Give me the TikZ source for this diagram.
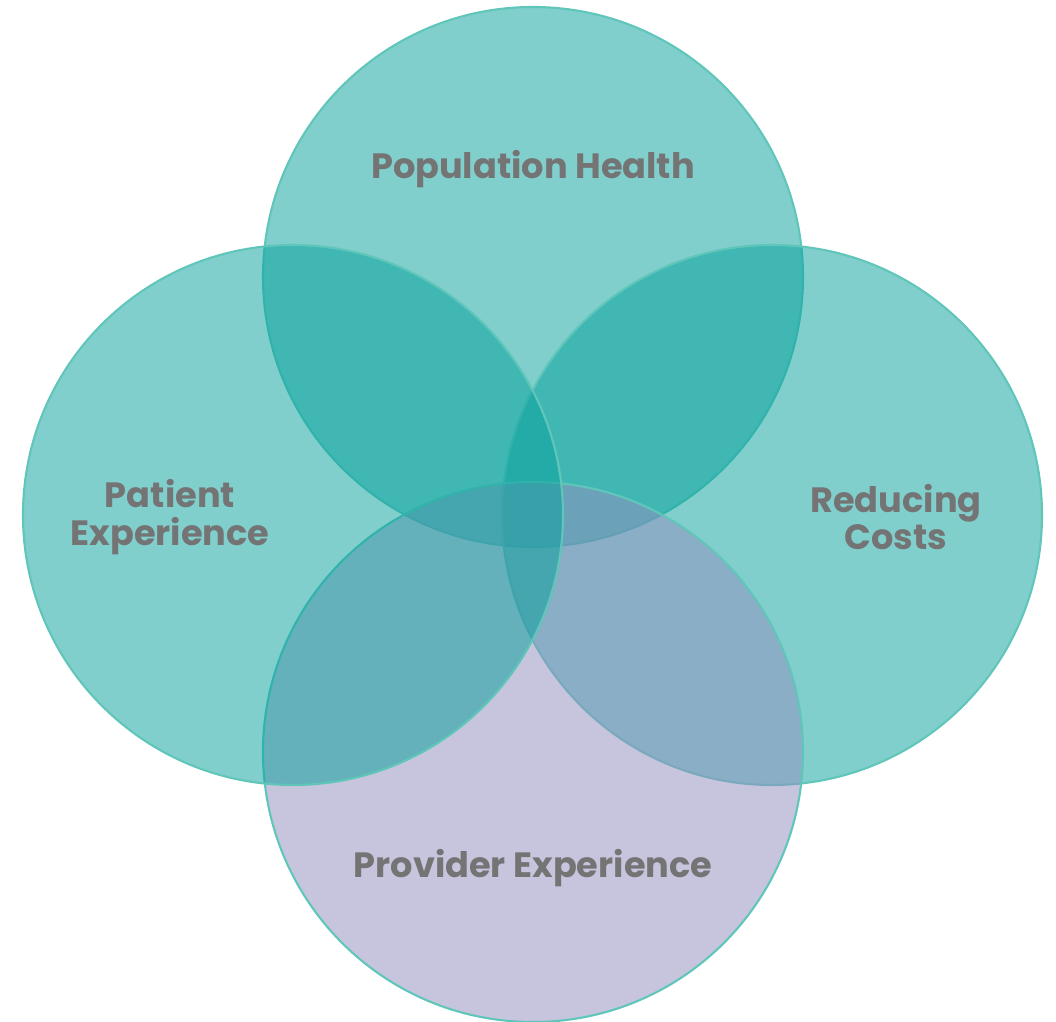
\documentclass[tikz,border=0pt]{standalone}
\usepackage{fontspec}
\setmainfont{Poppins}
\definecolor{tealfill}{RGB}{3,159,155}
\definecolor{lavfill}{RGB}{147,144,192}
\definecolor{rimline}{RGB}{96,198,186}
\definecolor{labgray}{RGB}{116,116,116}
\tikzset{
  ring/.style={circle, minimum size=10.8cm, inner sep=0pt, draw=rimline, line width=1.2pt, fill opacity=0.5},
  lab/.style={text=labgray, font=\bfseries\fontsize{20}{21.5}\selectfont, align=center}
}
\begin{document}
\begin{tikzpicture}[x=0.2mm, y=-0.2mm]

   \useasboundingbox (0,0) rectangle (1056,1022);

   \node[ring, fill=tealfill] at (533, 277)  (pop)   {};
   \node[ring, fill=tealfill] at (772, 515)  (cost)  {};
   \node[ring, fill=lavfill, fill opacity=0.52] at (533, 752)  (prov)  {};
   \node[ring, fill=tealfill] at (293, 515)  (pat)   {};

%Circle labels
   \node[lab] at (533, 169)  (poplab)   {Population Health};
   \node[lab] at (170, 517)  (patlab)   {Patient\\Experience};
   \node[lab] at (896, 517)  (costlab)  {Reducing\\Costs};
   \node[lab] at (533, 868)  (provlab)  {Provider Experience};

\end{tikzpicture}
\end{document}
